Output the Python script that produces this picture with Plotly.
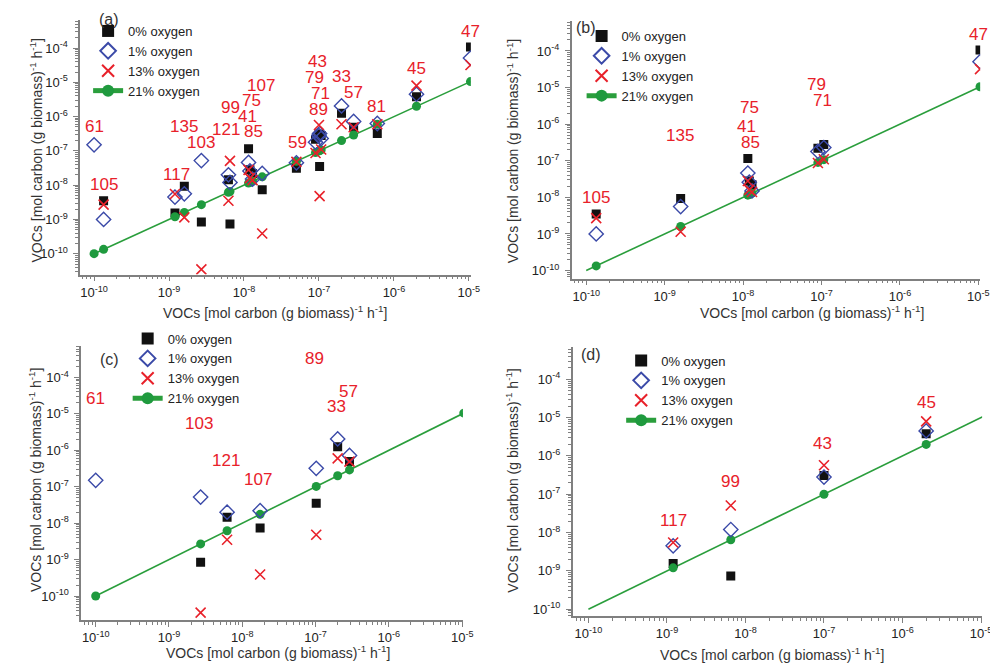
import numpy as np
import plotly.graph_objects as go

# ---------------- data ----------------
compounds = ["61", "105", "117", "135", "103", "121", "99", "75", "41", "85", "107",
             "59", "79", "71", "89", "43", "33", "57", "81", "45", "47"]
# 21% oxygen (reference, x axis)
oxy21 = [1.0e-10, 1.34e-10, 1.2e-9, 1.6e-9, 2.7e-9, 6.2e-9, 6.5e-9, 1.15e-8, 1.2e-8, 1.3e-8, 1.75e-8,
         5.0e-8, 9.0e-8, 1.07e-7, 1.02e-7, 1.0e-7, 2.0e-7, 2.9e-7, 6.0e-7, 2.0e-6, 1.05e-5]
oxy0 = [None, 3.5e-9, 1.55e-9, 9.3e-9, 8.4e-10, 1.45e-8, 7.4e-10, 1.15e-7, 2.8e-8, 2.2e-8, 7.4e-9,
        3.1e-8, 2.2e-7, 2.8e-7, 3.5e-8, 3.1e-7, 1.26e-6, 4.9e-7, 3.2e-7, 3.8e-6, 1.07e-4]
oxy1 = [1.5e-7, 1.0e-9, 4.5e-9, 5.6e-9, 5.2e-8, 2.0e-8, 1.2e-8, 4.6e-8, 2.6e-8, 1.5e-8, 2.2e-8,
        4.5e-8, 1.8e-7, 2.3e-7, 3.2e-7, 2.8e-7, 2.05e-6, 7.2e-7, 6.3e-7, 4.5e-6, 5.1e-5]
oxy13 = [None, 2.7e-9, 5.5e-9, 1.15e-9, 3.5e-11, 3.5e-9, 5.1e-8, 2.8e-8, 1.6e-8, 1.4e-8, 3.9e-10,
         4.8e-8, 8.7e-8, 1.1e-7, 4.8e-9, 5.7e-7, 6.0e-7, 4.9e-7, 6.0e-7, 8.0e-6, 3.2e-5]

panel_members = {
    "a": compounds,
    "b": ["105", "135", "75", "41", "85", "79", "71", "47"],
    "c": ["61", "103", "121", "107", "89", "33", "57"],
    "d": ["117", "99", "43", "45"],
}
green_extra = {"a": [], "b": [], "c": ["47"], "d": []}

# label positions (annotation anchor points in data units)
label_pos = {
    "a": {"61": (1e-10, 5.2e-7), "105": (1.34e-10, 1.05e-8), "117": (1.24e-9, 2.0e-8),
          "135": (1.6e-9, 5.3e-7), "103": (2.7e-9, 1.7e-7), "99": (6.6e-9, 1.8e-6),
          "121": (5.75e-9, 4.2e-7), "85": (1.33e-8, 3.6e-7), "41": (1.13e-8, 1.03e-6),
          "75": (1.25e-8, 2.95e-6), "107": (1.7e-8, 8.0e-6), "59": (5.2e-8, 1.7e-7),
          "43": (9.7e-8, 4.0e-5), "79": (8.8e-8, 1.35e-5), "71": (1.05e-7, 4.6e-6),
          "89": (1.0e-7, 1.6e-6), "33": (2.0e-7, 1.5e-5), "57": (2.9e-7, 4.9e-6),
          "81": (5.8e-7, 2.0e-6), "45": (2.0e-6, 2.5e-5), "47": (1.05e-5, 3.1e-4)},
    "b": {"105": (1.34e-10, 9.7e-9), "135": (1.58e-9, 4.9e-7), "75": (1.2e-8, 2.9e-6),
          "41": (1.12e-8, 8.7e-7), "85": (1.26e-8, 3.1e-7), "79": (8.6e-8, 1.25e-5),
          "71": (1.03e-7, 4.5e-6), "47": (1.0e-5, 2.9e-4)},
    "c": {"61": (1e-10, 2.7e-5), "103": (2.6e-9, 5.3e-6), "121": (6.0e-9, 5.2e-7),
          "107": (1.66e-8, 1.55e-7), "89": (9.8e-8, 3.4e-4), "57": (2.8e-7, 4.2e-5),
          "33": (1.9e-7, 1.6e-5)},
    "d": {"117": (1.2e-9, 2.1e-8), "99": (6.5e-9, 2.1e-7), "43": (9.6e-8, 2.1e-6),
          "45": (2.0e-6, 2.5e-5)},
}

series_names = ["0% oxygen", "1% oxygen", "13% oxygen", "21% oxygen"]

# tick labels: decades 10^-10 ... 10^-4 (y) / 10^-5 (x)
tick_exponents = [-10, -9, -8, -7, -6, -5, -4]
tick_values = [10.0 ** e for e in tick_exponents]
tick_labels = [f"10<sup>{e}</sup>" for e in tick_exponents]
# minor tick positions: 2..9 within every decade
minor_ticks = [m * 10.0 ** e for e in range(-12, -2) for m in range(2, 10)]

# ---------------- layout geometry ----------------
W, H = 998, 667
panels = {
    # x domain px, y domain px (from top), x range (log10), y range (log10)
    "a": dict(xpx=(73, 468), ypx=(12, 267), xr=(-10.185, -4.974), yr=(-10.61, -3.18)),
    "b": dict(xpx=(570, 983), ypx=(13, 271), xr=(-10.185, -4.977), yr=(-10.22, -3.18)),
    "c": dict(xpx=(74, 460), ypx=(339, 613), xr=(-10.198, -4.99), yr=(-10.66, -3.15)),
    "d": dict(xpx=(571, 985), ypx=(340, 609), xr=(-10.2, -4.986), yr=(-10.18, -3.17)),
}
legend_px = {"a": (81, 8), "b": (580, 13), "c": (121, 316), "d": (620, 338)}
letter_px = {"a": (102, 12), "b": (584, 20), "c": (103, 352), "d": (590, 347)}
xtitle_px = {"a": (270, 304), "b": (813, 304), "c": (273, 645), "d": (773, 647)}
ytitle_px = {"a": (28, 143), "b": (510, 143), "c": (28, 473), "d": (510, 473)}

FONT = "Liberation Sans, Arial, sans-serif"
RED = "#e8212a"
BLUE = "#3b4aa8"
BLACK = "#111111"
GREEN = "#1f9a3e"
LINEGREEN = "#2a9e3c"
AXIS = "#808080"

idx = {c: i for i, c in enumerate(compounds)}

fig = go.Figure()
annotations = []
layout_axes = {}
title_text = "VOCs [mol carbon (g biomass)<sup>-1</sup> h<sup>-1</sup>]"

for k, key in enumerate(["a", "b", "c", "d"]):
    n = k + 1
    xa = "x" if n == 1 else f"x{n}"
    ya = "y" if n == 1 else f"y{n}"
    leg = "legend" if n == 1 else f"legend{n}"
    members = panel_members[key]
    ii = [idx[c] for c in members]
    xs = [oxy21[i] for i in ii]

    # reference 1:1 line
    fig.add_trace(go.Scatter(x=[min(oxy21), max(oxy21)], y=[min(oxy21), max(oxy21)],
                             mode="lines", line=dict(color=LINEGREEN, width=1.6),
                             xaxis=xa, yaxis=ya, showlegend=False, hoverinfo="skip"))
    # 0%
    fig.add_trace(go.Scatter(x=xs, y=[oxy0[i] for i in ii], mode="markers",
                             marker=dict(symbol="square", size=9, color=BLACK),
                             name=series_names[0], legend=leg, legendrank=1,
                             xaxis=xa, yaxis=ya))
    # 21% markers
    gi = ii + [idx[c] for c in green_extra[key]]
    fig.add_trace(go.Scatter(x=[oxy21[i] for i in gi], y=[oxy21[i] for i in gi], mode="markers",
                             marker=dict(symbol="circle", size=9, color=GREEN),
                             showlegend=False, xaxis=xa, yaxis=ya))
    # 1%
    fig.add_trace(go.Scatter(x=xs, y=[oxy1[i] for i in ii], mode="markers",
                             marker=dict(symbol="diamond-open", size=11, color=BLUE,
                                         line=dict(width=1.4, color=BLUE)),
                             name=series_names[1], legend=leg, legendrank=2,
                             xaxis=xa, yaxis=ya))
    # 13%
    fig.add_trace(go.Scatter(x=xs, y=[oxy13[i] for i in ii], mode="markers",
                             marker=dict(symbol="x-thin-open", size=10, color=RED,
                                         line=dict(width=1.6, color=RED)),
                             name=series_names[2], legend=leg, legendrank=3,
                             xaxis=xa, yaxis=ya))
    # legend entry for 21%
    fig.add_trace(go.Scatter(x=[None], y=[None], mode="lines+markers",
                             line=dict(color=LINEGREEN, width=1.6),
                             marker=dict(symbol="circle", size=9, color=GREEN),
                             name=series_names[3], legend=leg, legendrank=4,
                             xaxis=xa, yaxis=ya))

    p = panels[key]
    xdom = [p["xpx"][0] / W, p["xpx"][1] / W]
    ydom = [1 - p["ypx"][1] / H, 1 - p["ypx"][0] / H]
    common = dict(type="log", tickmode="array", tickvals=tick_values, ticktext=tick_labels,
                  showline=True, linecolor=AXIS, linewidth=1.6, mirror=False,
                  ticks="outside", ticklen=5, tickwidth=1.2, tickcolor=AXIS,
                  minor=dict(ticks="outside", ticklen=3, tickwidth=1, tickmode="array",
                             tickvals=minor_ticks, tickcolor=AXIS, showgrid=False),
                  showgrid=False, zeroline=False,
                  tickfont=dict(family=FONT, size=13, color="#222222"))
    layout_axes["xaxis" if n == 1 else f"xaxis{n}"] = dict(
        domain=xdom, range=list(p["xr"]), anchor=ya, ticklabelstandoff=0, **common)
    layout_axes["yaxis" if n == 1 else f"yaxis{n}"] = dict(
        domain=ydom, range=list(p["yr"]), anchor=xa, ticklabelstandoff=3, **common)

    lx, ly = legend_px[key]
    layout_axes[leg] = dict(x=lx / W, y=1 - ly / H, xanchor="left", yanchor="top",
                            bgcolor="rgba(0,0,0,0)", font=dict(family=FONT, size=13, color="#222222"),
                            traceorder="normal", itemsizing="constant", tracegroupgap=0)

    # compound labels
    for c, (lxv, lyv) in label_pos[key].items():
        annotations.append(dict(x=np.log10(lxv), y=np.log10(lyv), xref=xa, yref=ya,
                                text=c, showarrow=False, xanchor="center", yanchor="middle",
                                borderpad=0,
                                font=dict(family=FONT, size=17, color=RED)))
    # panel letter
    px_, py_ = letter_px[key]
    annotations.append(dict(x=px_ / W, y=1 - py_ / H, xref="paper", yref="paper",
                            text=f"({key})", showarrow=False, xanchor="center", yanchor="middle",
                            font=dict(family=FONT, size=16, color="#333333")))
    # axis titles
    tx, ty = xtitle_px[key]
    annotations.append(dict(x=tx / W, y=1 - ty / H, xref="paper", yref="paper",
                            text=title_text, showarrow=False, xanchor="center", yanchor="middle",
                            font=dict(family=FONT, size=14, color="#333333")))
    tx, ty = ytitle_px[key]
    annotations.append(dict(x=tx / W, y=1 - ty / H, xref="paper", yref="paper",
                            text=title_text, showarrow=False, textangle=-90,
                            xanchor="center", yanchor="middle",
                            font=dict(family=FONT, size=14, color="#333333")))

fig.update_layout(width=W, height=H, margin=dict(l=0, r=0, t=0, b=0),
                  plot_bgcolor="white", paper_bgcolor="white",
                  annotations=annotations, showlegend=True, **layout_axes)

fig.write_html("out.html")
